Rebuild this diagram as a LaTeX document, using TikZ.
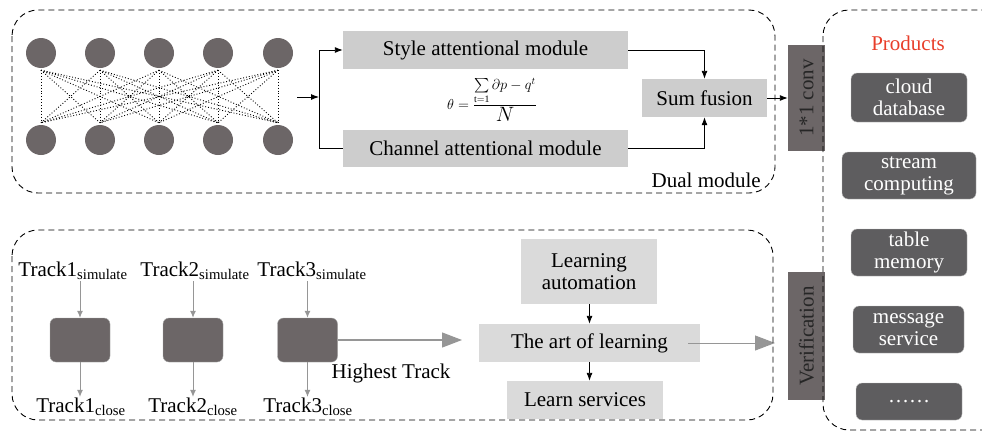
\documentclass[tikz,border=0pt]{standalone}
\usepackage{amsmath}
\usepackage{fontspec}
\setmainfont{Liberation Serif}
\usetikzlibrary{positioning}
\usetikzlibrary{arrows.meta}
\usetikzlibrary{calc}
\definecolor{lbox}{RGB}{205,205,205}
\definecolor{pbox}{RGB}{218,218,218}
\definecolor{dgray}{RGB}{108,102,103}
\definecolor{prod}{RGB}{94,93,95}
\definecolor{agray}{RGB}{150,150,150}
\definecolor{pred}{RGB}{232,62,42}
\tikzset{>={Latex[length=8pt,width=6pt]}}
\tikzset{txt/.style={font=\fontsize{21}{24}\selectfont, inner sep=1pt}}
\tikzset{neuron/.style={circle, fill=dgray, minimum size=30pt, inner sep=0pt}}
\tikzset{mod/.style={txt, fill=lbox, minimum height=38pt}}
\tikzset{lmod/.style={txt, fill=pbox, minimum height=38pt, align=center}}
\tikzset{side/.style={txt, fill=dgray, text=black!85, rotate=90, minimum height=37pt}}
\tikzset{pitem/.style={txt, fill=prod, draw=black!25, rounded corners=6pt, text=white, align=center, minimum height=47pt}}
\tikzset{tbox/.style={fill=dgray, draw=black!35, rounded corners=6pt, minimum width=60pt, minimum height=44pt}}
\tikzset{grarr/.style={draw=agray, line width=1pt, -{Latex[length=7pt,width=6pt]}}}
\tikzset{frame/.style={dashed, dash pattern=on 6pt off 4pt, line width=0.9pt, rounded corners=26pt}}

\begin{document}
\begin{tikzpicture}[x=1pt, y=-1pt]
\useasboundingbox (0,0) rectangle (982,434);
\clip (0,0) rectangle (982,434);

\foreach \x [count=\i] in {41,100,159,218,278} {
  \node[neuron] (t\i) at (\x,53) {};
  \node[neuron] (b\i) at (\x,140) {};
}
\foreach \i in {1,...,5}
  \foreach \j in {1,...,5}
    \draw[dotted, line width=0.9pt] ([yshift=-2pt]t\i.south) -- ([yshift=2pt]b\j.north);

\coordinate (out) at (297,97);
\coordinate (split) at (319,97);
\node[mod, minimum width=285pt] (style) at (485.5,50) {Style attentional module};
\node[mod, minimum width=285pt, minimum height=37pt] (chan) at (485.5,148.5) {Channel attentional module};
\node[mod, minimum width=125pt] (sum) at (704.5,98) {Sum fusion};
\node[inner sep=0pt, font=\fontsize{14}{16}\selectfont] (eq) at (492,100)
  {$\theta=\dfrac{\sum\limits_{\mathrm{t=1}}\partial p-q^{t}}{\text{\fontsize{22}{24}\selectfont$N$}}$};
\node[txt, anchor=east] (dual) at (762,180) {Dual module};

\draw[->, line width=0.9pt] (out) -- (split);
\draw[->, line width=0.9pt] (split) |- (style.west);
\draw[line width=0.9pt] (split) |- (chan.west);
\draw[->, line width=0.9pt] (style.east) -| (sum.north);
\draw[->, line width=0.9pt] (chan.east) -| (sum.south);

\node[side, minimum width=106pt] (conv) at (806.5,98) {1*1 conv};
\node[side, minimum width=128pt] (verif) at (806.5,336) {Verification};
\draw[->, line width=0.9pt] (sum.east) -- (conv.north);

\node[txt, text=pred] (ptitle) at (908,43) {Products};
\node[pitem, minimum width=116pt, minimum height=49pt] (p1) at (909,97.5) {cloud\\[-2pt]database};
\node[pitem, minimum width=134pt] (p2) at (909,175.5) {stream\\[-2pt]computing};
\node[pitem, minimum width=116pt] (p3) at (909,252.5) {table\\[-2pt]memory};
\node[pitem, minimum width=111pt] (p4) at (908.5,329.5) {message\\[-2pt]service};
\node[pitem, minimum width=106pt, minimum height=37pt] (p5) at (909,401.5) {\dots\dots};

\foreach \x/\xs/\xc/\n in {80/73/81/1, 193/195/193/2, 307.5/312/308/3} {
  \node[txt] (sim\n) at (\xs,271) {Track\n$_{\text{simulate}}$};
  \node[tbox] (box\n) at (\x,340) {};
  \node[txt] (cls\n) at (\xc,407) {Track\n$_{\text{close}}$};
  \draw[grarr] (sim\n.south -| box\n) -- (box\n);
  \draw[grarr] (box\n) -- (cls\n.north -| box\n);
}
\coordinate (hi) at (462,340);
\draw[draw=agray, line width=1.2pt, -{Triangle[length=20pt,width=15pt]}] (box3) -- (hi);
\node[txt] (hitxt) at (391,373) {Highest Track};

\node[lmod, minimum width=136pt, minimum height=65pt] (auto) at (589,271.5) {Learning\\[-2pt]automation};
\node[lmod, minimum width=221pt] (art) at (589.5,343) {The art of learning};
\node[lmod, minimum width=156pt] (serv) at (585,400) {Learn services};
\draw[->, line width=0.9pt] (auto.south -| art) -- (art);
\draw[->, line width=0.9pt] (art) -- (serv.north -| art);
\coordinate (vin) at (775,343);
\draw[draw=agray, line width=1pt, -{Triangle[length=20pt,width=15pt]}] ([xshift=-12pt]art.east) -- (vin);

\draw[frame] (12,10) rectangle (775,193);
\draw[frame] (12,230) rectangle (773,420);
\draw[frame] (823,10) rectangle (1010,430);
\end{tikzpicture}
\end{document}
